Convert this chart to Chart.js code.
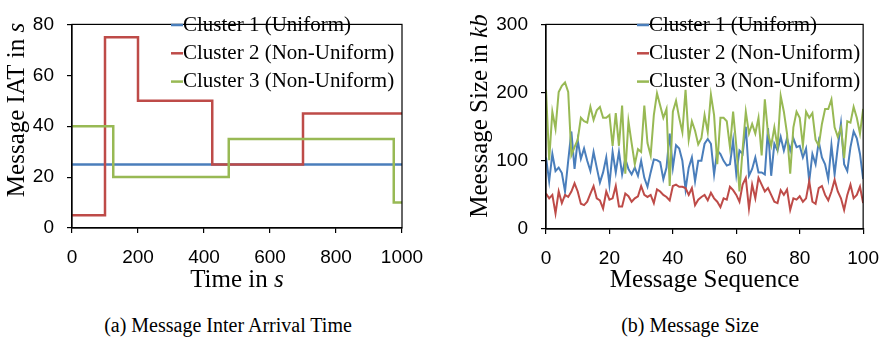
<!DOCTYPE html>
<html>
<head>
<meta charset="utf-8">
<script src="https://cdn.jsdelivr.net/npm/chart.js@4/dist/chart.umd.min.js"></script>
<style>
  body { margin: 0; background: #fff; width: 892px; height: 346px; position: relative; overflow: hidden; }
  canvas { position: absolute; top: 0; }
  .cap { position: absolute; top: 314px; height: 24px; line-height: 24px; font: 20px "Liberation Serif", serif; color: #000; text-align: center; white-space: nowrap; }
</style>
</head>
<body>
<canvas id="iat" width="446" height="300" style="left:0"></canvas>
<canvas id="size" width="446" height="300" style="left:446px"></canvas>
<div class="cap" style="left:28px;width:400px">(a) Message Inter Arrival Time</div>
<div class="cap" style="left:490px;width:400px">(b) Message Size</div>
<script>
const seriesNames = ['Cluster 1 (Uniform)', 'Cluster 2 (Non-Uniform)', 'Cluster 3 (Non-Uniform)'];
const seriesColors = ['#4A7EBB', '#BE4B48', '#98B954'];

// (a) each level holds from its start time until the next one
const iatTimes = [
  [0, 1000],
  [0, 100, 200, 425, 700, 1000],
  [0, 125, 475, 975, 1000]
];
const iatLevels = [
  [25, 25],
  [5, 75, 50, 25, 45, 45],
  [40, 20, 35, 10, 10]
];
const iatTimeTicks = [0, 200, 400, 600, 800, 1000];
const iatValueTicks = [0, 20, 40, 60, 80];

// (b) message size in kb, messages 0..100
const sizeCluster1 = [
  105, 70, 110, 85, 90, 82, 55, 100, 143, 88,
  130, 103, 118, 100, 85, 113, 90, 68, 83, 105,
  65, 113, 83, 113, 80, 103, 88, 80, 90, 78,
  100, 75, 62, 83, 102, 101, 98, 73, 90, 140,
  90, 123, 118, 100, 58, 90, 105, 70, 100, 100,
  125, 132, 125, 80, 115, 110, 100, 93, 95, 130,
  80, 115, 110, 150, 78, 88, 105, 83, 83, 80,
  148, 78, 125, 115, 135, 115, 133, 115, 133, 120,
  122, 105, 118, 70, 110, 95, 128, 105, 95, 73,
  123, 80, 120, 155, 95, 85, 120, 143, 133, 110,
  73
];
const sizeCluster2 = [
  52, 45, 50, 23, 55, 38, 50, 47, 55, 67,
  55, 37, 35, 40, 52, 63, 45, 42, 30, 55,
  43, 45, 63, 33, 33, 52, 48, 40, 45, 48,
  63, 50, 47, 50, 38, 58, 55, 50, 47, 42,
  63, 65, 62, 62, 60, 50, 60, 35, 43, 47,
  50, 42, 53, 45, 40, 32, 45, 43, 62, 57,
  50, 40, 65, 75, 30, 65, 45, 75, 65, 55,
  60, 50, 40, 38, 57, 50, 58, 28, 45, 43,
  48, 40, 45, 70, 40, 37, 60, 63, 50, 42,
  55, 72, 55, 45, 28, 50, 65, 45, 50, 62,
  38
];
const sizeCluster3 = [
  204, 101, 172, 147, 201, 210, 215, 201, 108, 120,
  131, 163, 158, 156, 179, 160, 174, 179, 163, 163,
  167, 122, 170, 122, 181, 81, 158, 126, 95, 117,
  113, 181, 126, 108, 167, 199, 181, 163, 176, 63,
  172, 188, 163, 142, 204, 131, 158, 144, 124, 133,
  167, 142, 197, 167, 95, 163, 163, 158, 120, 172,
  122, 55, 117, 172, 140, 154, 140, 163, 108, 190,
  140, 122, 149, 120, 195, 172, 140, 81, 149, 172,
  163, 122, 172, 163, 170, 131, 122, 154, 176, 176,
  190, 149, 135, 149, 104, 158, 156, 179, 163, 140,
  176
];
const seqTicks = [0, 20, 40, 60, 80, 100];
const sizeTicks = [0, 100, 200, 300];

const SERIF = '"Liberation Serif", "Times New Roman", serif';
const SANS = '"Liberation Sans", Arial, sans-serif';

// box round the plot area
const frame = {
  id: 'frame',
  afterDatasetsDraw(chart) {
    const { ctx, chartArea: a } = chart;
    ctx.save();
    ctx.strokeStyle = '#000';
    ctx.lineWidth = 1.2;
    ctx.strokeRect(a.left, a.top, a.right - a.left, a.bottom - a.top);
    ctx.restore();
  }
};

// legend drawn over the lines, inside the plot
const key = {
  id: 'key',
  afterDraw(chart, args, opts) {
    const ctx = chart.ctx;
    ctx.save();
    ctx.font = '21px ' + SERIF;
    ctx.textBaseline = 'middle';
    ctx.textAlign = 'left';
    chart.data.datasets.forEach((ds, i) => {
      const y = opts.top + i * opts.gap;
      ctx.strokeStyle = ds.borderColor;
      ctx.lineWidth = 2.5;
      ctx.beginPath();
      ctx.moveTo(opts.left, y);
      ctx.lineTo(opts.left + 12, y);
      ctx.stroke();
      ctx.fillStyle = '#000';
      ctx.fillText(ds.label, opts.left + 12, y);
    });
    ctx.restore();
  }
};

// axis titles with italic units
function richText(ctx, parts, cx, cy) {
  const fonts = parts.map(p => (p[1] ? 'italic ' : '') + '25px ' + SERIF);
  let w = 0;
  parts.forEach((p, i) => { ctx.font = fonts[i]; w += ctx.measureText(p[0]).width; });
  let x = cx - w / 2;
  ctx.textBaseline = 'middle';
  ctx.textAlign = 'left';
  ctx.fillStyle = '#000';
  parts.forEach((p, i) => { ctx.font = fonts[i]; ctx.fillText(p[0], x, cy); x += ctx.measureText(p[0]).width; });
}
const titles = {
  id: 'titles',
  afterDraw(chart, args, opts) {
    const { ctx, chartArea: a } = chart;
    ctx.save();
    richText(ctx, opts.x, (a.left + a.right) / 2, opts.xAt);
    ctx.translate(opts.yAt, opts.yMid);
    ctx.rotate(-Math.PI / 2);
    richText(ctx, opts.y, 0, 0);
    ctx.restore();
  }
};

function axis(ticks, size) {
  return {
    type: 'linear',
    min: ticks[0],
    max: ticks[ticks.length - 1],
    afterBuildTicks: s => { s.ticks = ticks.map(value => ({ value })); },
    afterFit: s => { if (s.isHorizontal()) s.height = size; else s.width = size; },
    ticks: {
      font: { family: SANS, size: 19 }, color: '#000', padding: 13, maxRotation: 0, autoSkip: false,
      callback: v => String(v)
    },
    grid: { drawOnChartArea: false, tickLength: 5, color: '#000', lineWidth: 1.2 },
    border: { color: '#000', width: 1.2 }
  };
}

new Chart(document.getElementById('iat'), {
  type: 'line',
  data: {
    datasets: seriesNames.map((name, k) => ({
      label: name,
      data: iatTimes[k].map((t, i) => ({ x: t, y: iatLevels[k][i] })),
      borderColor: seriesColors[k],
      borderWidth: 2.5,
      pointRadius: 0,
      stepped: 'before',
      order: 3 - k
    }))
  },
  options: {
    responsive: false,
    animation: false,
    layout: { padding: { top: 8, right: 44, left: 0, bottom: 0 } },
    scales: {
      x: axis(iatTimeTicks, 72),
      y: axis(iatValueTicks, 72)
    },
    plugins: {
      legend: { display: false },
      tooltip: { enabled: false },
      key: { left: 171, top: 25, gap: 28.3 },
      titles: {
        x: [['Time in ', false], ['s', true]],
        y: [['Message IAT in ', false], ['s', true]],
        xAt: 280, yAt: 17, yMid: 110
      }
    }
  },
  plugins: [frame, key, titles]
});

const sizeSeries = [sizeCluster1, sizeCluster2, sizeCluster3];
new Chart(document.getElementById('size'), {
  type: 'line',
  data: {
    datasets: seriesNames.map((name, k) => ({
      label: name,
      data: sizeSeries[k].map((v, i) => ({ x: i, y: v })),
      borderColor: seriesColors[k],
      borderWidth: 2,
      pointRadius: 0,
      tension: 0,
      order: 3 - k
    }))
  },
  options: {
    responsive: false,
    animation: false,
    layout: { padding: { top: 9, right: 22, left: 0, bottom: 0 } },
    scales: {
      x: axis(seqTicks, 71),
      y: axis(sizeTicks, 100)
    },
    plugins: {
      legend: { display: false },
      tooltip: { enabled: false },
      key: { left: 191, top: 25, gap: 28.3 },
      titles: {
        x: [['Message Sequence', false]],
        y: [['Meessage Size in ', false], ['kb', true]],
        xAt: 280, yAt: 34, yMid: 116
      }
    }
  },
  plugins: [frame, key, titles]
});
</script>
</body>
</html>
